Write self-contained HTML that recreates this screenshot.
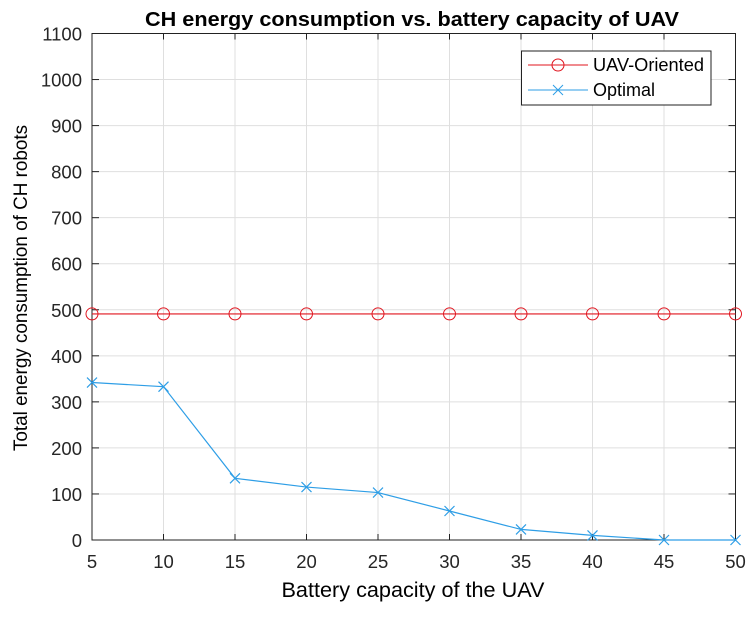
<!DOCTYPE html>
<html><head><meta charset="utf-8"><style>
body{margin:0;background:#fff;}
svg text{font-family:"Liberation Sans",sans-serif;}
</style></head><body>
<svg id="chart" width="755" height="612" xmlns="http://www.w3.org/2000/svg">
<rect width="755" height="612" fill="#fff"/>
<g id="grid"></g>
<g id="axes"></g>
<g id="series"></g>
<text x="412" y="26" text-anchor="middle" font-size="20" font-weight="bold" textLength="534" lengthAdjust="spacingAndGlyphs">CH energy consumption vs. battery capacity of UAV</text>
<text x="413" y="597" text-anchor="middle" font-size="21" textLength="263" lengthAdjust="spacingAndGlyphs">Battery capacity of the UAV</text>
<text transform="translate(27,288) rotate(-90)" text-anchor="middle" font-size="19.5" textLength="326" lengthAdjust="spacingAndGlyphs">Total energy consumption of CH robots</text>
<g>
<rect x="521.5" y="51" width="189.5" height="54" fill="#fff" stroke="#222" stroke-width="1"/>
<g>
<line x1="528" y1="65" x2="588" y2="65" stroke="#e0141e" stroke-width="1"/>
<circle cx="558" cy="65" r="6" fill="none" stroke="#e0141e"/>
<text x="593" y="71" font-size="18" textLength="111" lengthAdjust="spacingAndGlyphs">UAV-Oriented</text></g>
<g>
<line x1="528" y1="90" x2="588" y2="90" stroke="#2e9ee6" stroke-width="1"/>
<path d="M553,85 l10,10 M563,85 l-10,10" stroke="#2e9ee6"/>
<text x="593" y="96" font-size="18">Optimal</text></g>
</g>
</svg>
<script>
const categories=[5,10,15,20,25,30,35,40,45,50];
const uavOriented=[491,491,491,491,491,491,491,491,491,491];
const optimal=[342,333,134,115,103,63,23,10,0,0];
const yTicks=[0,100,200,300,400,500,600,700,800,900,1000,1100];
const xTicks=[5,10,15,20,25,30,35,40,45,50];
const L=92,R=735.5,T=33.5,B=540;
const X=v=>L+(v-5)/45*(R-L);
const Y=v=>B-v/1100*(B-T);
const NS="http://www.w3.org/2000/svg";
function mk(parent,tag,attrs){const e=document.createElementNS(NS,tag);for(const k in attrs)e.setAttribute(k,attrs[k]);parent.appendChild(e);return e;}
const grid=document.getElementById('grid'),axes=document.getElementById('axes'),series=document.getElementById('series');
xTicks.forEach(t=>{
  const g=mk(grid,'line',{x1:X(t),x2:X(t),y1:T,y2:B,stroke:'#dfdfdf'});
  
  
  mk(axes,'line',{x1:X(t),x2:X(t),y1:B,y2:B-6,stroke:'#222'});
  mk(axes,'line',{x1:X(t),x2:X(t),y1:T,y2:T+6,stroke:'#222'});
  const tx=mk(axes,'text',{x:X(t),y:B+28,'text-anchor':'middle','font-size':'18.5',fill:'#262626'});
  tx.textContent=t;
  
  
});
yTicks.forEach(t=>{
  const g=mk(grid,'line',{x1:L,x2:R,y1:Y(t),y2:Y(t),stroke:'#dfdfdf'});
  
  
  mk(axes,'line',{x1:L,x2:L+7,y1:Y(t),y2:Y(t),stroke:'#222'});
  mk(axes,'line',{x1:R,x2:R-7,y1:Y(t),y2:Y(t),stroke:'#222'});
  const tx=mk(axes,'text',{x:L-10,y:Y(t)+7,'text-anchor':'end','font-size':'18.5',fill:'#262626'});
  tx.textContent=t;
  
  
});
const frame=mk(axes,'rect',{x:L,y:T,width:R-L,height:B-T,fill:'none',stroke:'#222'});


const p1=mk(series,'polyline',{points:categories.map((c,i)=>X(c)+','+Y(uavOriented[i])).join(' '),fill:'none',stroke:'#e0141e','stroke-width':1.2});


categories.forEach((c,i)=>{
  const m=mk(series,'circle',{cx:X(c),cy:Y(uavOriented[i]),r:6,fill:'none',stroke:'#e0141e'});
  
  
});
const p2=mk(series,'polyline',{points:categories.map((c,i)=>X(c)+','+Y(optimal[i])).join(' '),fill:'none',stroke:'#2e9ee6','stroke-width':1.2});


categories.forEach((c,i)=>{
  const x=X(c),y=Y(optimal[i]);
  const m=mk(series,'path',{d:`M${x-5},${y-5} L${x+5},${y+5} M${x+5},${y-5} L${x-5},${y+5}`,stroke:'#2e9ee6','stroke-width':1.2});
  
  
});
</script>
</body></html>
